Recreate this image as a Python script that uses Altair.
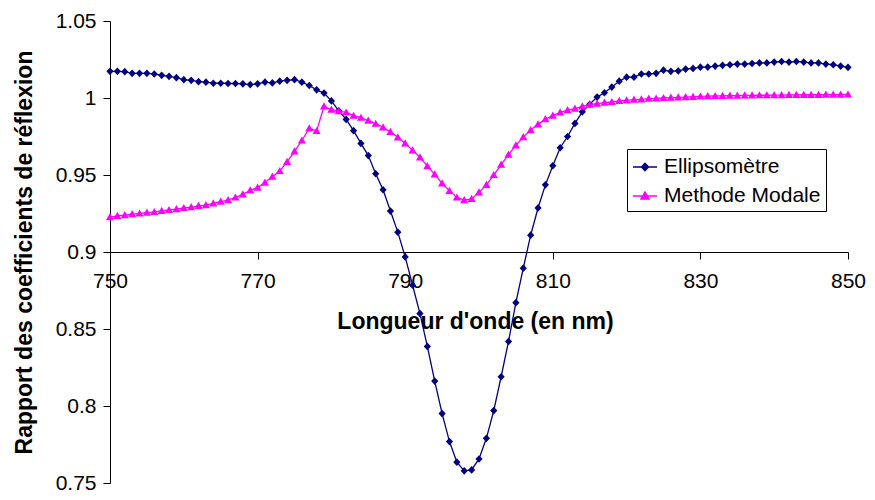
import altair as alt
import pandas as pd

# Wavelengths (nm), one sample per nm
wavelength = list(range(750, 851))

ellipsometre = [
    1.0173, 1.0173, 1.0171, 1.0160, 1.0160, 1.0160, 1.0156, 1.0147, 1.0141, 1.0132,
    1.0119, 1.0115, 1.0106, 1.0103, 1.0096, 1.0096, 1.0094, 1.0094, 1.0092, 1.0087,
    1.0092, 1.0103, 1.0098, 1.0109, 1.0115, 1.0119, 1.0103, 1.0081, 1.0053, 1.0032,
    0.9981, 0.9917, 0.9861, 0.9788, 0.9705, 0.9626, 0.9508, 0.9404, 0.9266, 0.9129,
    0.8968, 0.8784, 0.8600, 0.8387, 0.8162, 0.7951, 0.7769, 0.7635, 0.7579, 0.7585,
    0.7656, 0.7790, 0.7970, 0.8190, 0.8419, 0.8671, 0.8895, 0.9109, 0.9286, 0.9436,
    0.9560, 0.9677, 0.9750, 0.9835, 0.9910, 0.9959, 1.0006, 1.0034, 1.0071, 1.0109,
    1.0135, 1.0135, 1.0156, 1.0156, 1.0160, 1.0181, 1.0173, 1.0176, 1.0188, 1.0192,
    1.0200, 1.0201, 1.0207, 1.0212, 1.0216, 1.0220, 1.0220, 1.0224, 1.0228, 1.0228,
    1.0233, 1.0237, 1.0233, 1.0237, 1.0233, 1.0228, 1.0228, 1.0220, 1.0216, 1.0207,
    1.0199,
]

methode_modale = [
    0.9226, 0.9235, 0.9239, 0.9246, 0.9250, 0.9256, 0.9260, 0.9267, 0.9273, 0.9278,
    0.9286, 0.9292, 0.9299, 0.9305, 0.9316, 0.9327, 0.9337, 0.9354, 0.9374, 0.9401,
    0.9418, 0.9451, 0.9489, 0.9526, 0.9585, 0.9654, 0.9724, 0.9803, 0.9786, 0.9946,
    0.9925, 0.9914, 0.9906, 0.9885, 0.9872, 0.9853, 0.9833, 0.9810, 0.9780, 0.9745,
    0.9705, 0.9660, 0.9615, 0.9558, 0.9504, 0.9446, 0.9397, 0.9354, 0.9337, 0.9345,
    0.9387, 0.9436, 0.9500, 0.9568, 0.9632, 0.9692, 0.9746, 0.9792, 0.9829, 0.9863,
    0.9886, 0.9907, 0.9921, 0.9931, 0.9946, 0.9957, 0.9963, 0.9970, 0.9974, 0.9981,
    0.9985, 0.9989, 0.9991, 0.9996, 0.9997, 1.0000, 1.0002, 1.0004, 1.0006, 1.0008,
    1.0010, 1.0012, 1.0013, 1.0014, 1.0015, 1.0016, 1.0017, 1.0017, 1.0018, 1.0018,
    1.0019, 1.0019, 1.0020, 1.0020, 1.0021, 1.0021, 1.0021, 1.0022, 1.0022, 1.0022,
    1.0023,
]

series_names = ["Ellipsomètre", "Methode Modale"]
series_colors = ["#000080", "#FF00FF"]
x_ticks = [750, 770, 790, 810, 830, 850]
y_ticks = [0.75, 0.8, 0.85, 0.9, 0.95, 1.0, 1.05]

df = pd.DataFrame({
    "wl": wavelength + wavelength,
    "val": ellipsometre + methode_modale,
    "series": [series_names[0]] * len(wavelength) + [series_names[1]] * len(wavelength),
})

# marker shapes with a horizontal stroke (only stroked, hence visible, in the legend)
diamond_path = "M-1,0H1M0,-0.32L0.3,0L0,0.32L-0.3,0Z"
triangle_path = "M-1,0H1M0,-0.34L0.34,0.26L-0.34,0.26Z"

FONT = "Liberation Sans"
W, H = 738, 462

x_enc = alt.X(
    "wl:Q",
    scale=alt.Scale(domain=[750, 850], nice=False, zero=False),
    axis=alt.Axis(
        values=x_ticks, title="Longueur d'onde (en nm)", offset=-H / 2, grid=False,
        tickSize=7, labelPadding=11, titlePadding=19, titleX=365,
        labelFlush=False, labelOverlap=False,
    ),
)
y_enc = alt.Y(
    "val:Q",
    scale=alt.Scale(domain=[0.75, 1.05], nice=False, zero=False),
    axis=alt.Axis(
        values=y_ticks, title="Rapport des coefficients de réflexion", grid=False,
        format=".2~f", tickSize=7, labelPadding=7, titlePadding=19,
    ),
)

legend = alt.Legend(
    title=None, orient="none", legendX=517, legendY=128,
    strokeColor="black", fillColor="white", padding=5,
    labelFont=FONT, labelFontSize=21, labelColor="black",
    symbolSize=576, rowPadding=6, labelOffset=6, symbolStrokeWidth=1.3,
)

color_enc = alt.Color(
    "series:N", scale=alt.Scale(domain=series_names, range=series_colors), legend=legend
)
stroke_enc = alt.Stroke(
    "series:N", scale=alt.Scale(domain=series_names, range=series_colors), legend=legend
)
shape_enc = alt.Shape(
    "series:N", scale=alt.Scale(domain=series_names, range=[diamond_path, triangle_path]),
    legend=legend,
)

base = alt.Chart(df)
layers = []
for name, col in zip(series_names, series_colors):
    sub = base.transform_filter(alt.datum.series == name)
    layers.append(sub.mark_line(color=col, strokeWidth=1.3).encode(x=x_enc, y=y_enc))
    layers.append(
        sub.mark_point(filled=True, size=576).encode(
            x=x_enc, y=y_enc, color=color_enc, stroke=stroke_enc, shape=shape_enc,
            strokeWidth=alt.value(0), opacity=alt.value(1),
        )
    )

chart = alt.layer(*layers).properties(
    width=W, height=H,
    autosize=alt.AutoSizeParams(type="none"),
    padding={"left": 102, "top": 13, "right": 19, "bottom": 9},
).configure_view(stroke=None).configure_axis(
    domainColor="black", tickColor="black", labelColor="black", titleColor="black",
    labelFont=FONT, labelFontSize=21, titleFont=FONT, titleFontSize=23,
    titleFontWeight="bold",
)

chart.save("out.html", embed_options={"renderer": "svg", "actions": False})
